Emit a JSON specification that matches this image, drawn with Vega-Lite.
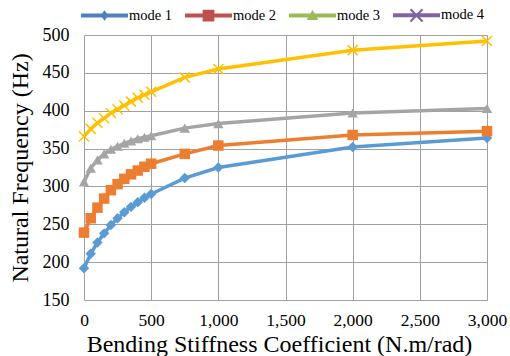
{
  "$schema": "https://vega.github.io/schema/vega-lite/v6.json",
  "width": 403,
  "height": 265,
  "autosize": {"type": "none"},
  "padding": {"left": 84, "top": 35, "right": 23, "bottom": 56},
  "background": "white",
  "config": {
    "view": {"stroke": null},
    "font": "Liberation Serif",
    "style": {"guide-label": {"font": "Liberation Serif"}, "guide-title": {"font": "Liberation Serif"}},
    "axis": {"labelFont": "Liberation Serif", "titleFont": "Liberation Serif"},
    "legend": {"labelFont": "Liberation Serif", "titleFont": "Liberation Serif"}
  },
  "data": {
    "values": [
      {"x": 0, "f": 192, "mode": "mode 1"}, {"x": 50, "f": 211, "mode": "mode 1"}, {"x": 100, "f": 226, "mode": "mode 1"}, {"x": 150, "f": 238, "mode": "mode 1"}, {"x": 200, "f": 249, "mode": "mode 1"}, {"x": 250, "f": 258, "mode": "mode 1"}, {"x": 300, "f": 266, "mode": "mode 1"}, {"x": 350, "f": 273, "mode": "mode 1"}, {"x": 400, "f": 279, "mode": "mode 1"}, {"x": 450, "f": 285, "mode": "mode 1"}, {"x": 500, "f": 290, "mode": "mode 1"}, {"x": 750, "f": 311, "mode": "mode 1"}, {"x": 1000, "f": 325, "mode": "mode 1"}, {"x": 2000, "f": 352, "mode": "mode 1"}, {"x": 3000, "f": 364, "mode": "mode 1"},
      {"x": 0, "f": 239, "mode": "mode 2"}, {"x": 50, "f": 258, "mode": "mode 2"}, {"x": 100, "f": 272, "mode": "mode 2"}, {"x": 150, "f": 284, "mode": "mode 2"}, {"x": 200, "f": 295, "mode": "mode 2"}, {"x": 250, "f": 303, "mode": "mode 2"}, {"x": 300, "f": 310, "mode": "mode 2"}, {"x": 350, "f": 316, "mode": "mode 2"}, {"x": 400, "f": 321, "mode": "mode 2"}, {"x": 450, "f": 326, "mode": "mode 2"}, {"x": 500, "f": 330, "mode": "mode 2"}, {"x": 750, "f": 343, "mode": "mode 2"}, {"x": 1000, "f": 354, "mode": "mode 2"}, {"x": 2000, "f": 368, "mode": "mode 2"}, {"x": 3000, "f": 373, "mode": "mode 2"},
      {"x": 0, "f": 306, "mode": "mode 3"}, {"x": 50, "f": 324, "mode": "mode 3"}, {"x": 100, "f": 335, "mode": "mode 3"}, {"x": 150, "f": 343, "mode": "mode 3"}, {"x": 200, "f": 349, "mode": "mode 3"}, {"x": 250, "f": 353, "mode": "mode 3"}, {"x": 300, "f": 357, "mode": "mode 3"}, {"x": 350, "f": 360, "mode": "mode 3"}, {"x": 400, "f": 363, "mode": "mode 3"}, {"x": 450, "f": 365, "mode": "mode 3"}, {"x": 500, "f": 367, "mode": "mode 3"}, {"x": 750, "f": 377, "mode": "mode 3"}, {"x": 1000, "f": 383, "mode": "mode 3"}, {"x": 2000, "f": 397, "mode": "mode 3"}, {"x": 3000, "f": 403, "mode": "mode 3"},
      {"x": 0, "f": 366, "mode": "mode 4"}, {"x": 50, "f": 376, "mode": "mode 4"}, {"x": 100, "f": 384, "mode": "mode 4"}, {"x": 150, "f": 390, "mode": "mode 4"}, {"x": 200, "f": 397, "mode": "mode 4"}, {"x": 250, "f": 402, "mode": "mode 4"}, {"x": 300, "f": 407, "mode": "mode 4"}, {"x": 350, "f": 412, "mode": "mode 4"}, {"x": 400, "f": 417, "mode": "mode 4"}, {"x": 450, "f": 421, "mode": "mode 4"}, {"x": 500, "f": 425, "mode": "mode 4"}, {"x": 750, "f": 444, "mode": "mode 4"}, {"x": 1000, "f": 455, "mode": "mode 4"}, {"x": 2000, "f": 480, "mode": "mode 4"}, {"x": 3000, "f": 492, "mode": "mode 4"}
    ]
  },
  "encoding": {
    "x": {
      "field": "x", "type": "quantitative",
      "scale": {"domain": [0, 3000], "nice": false, "zero": false},
      "axis": {
        "values": [0, 500, 1000, 1500, 2000, 2500, 3000], "format": ",d",
        "title": "Bending Stiffness Coefficient (N.m/rad)",
        "titleFont": "Liberation Serif", "titleFontSize": 24, "titleFontWeight": "normal", "titleColor": "black", "titlePadding": 4, "titleX": 195,
        "labelFont": "Liberation Serif", "labelFontSize": 17.5, "labelColor": "black", "labelPadding": 11, "labelFlush": false,
        "ticks": false, "domain": false, "gridColor": "#a0a0a0", "gridOpacity": 1, "gridWidth": 1
      }
    },
    "y": {
      "field": "f", "type": "quantitative",
      "scale": {"domain": [150, 500], "nice": false, "zero": false},
      "axis": {
        "values": [150, 200, 250, 300, 350, 400, 450, 500],
        "title": "Natural Frequency (Hz)",
        "titleFont": "Liberation Serif", "titleFontSize": 24, "titleFontWeight": "normal", "titleColor": "black", "titlePadding": 10,
        "labelFont": "Liberation Serif", "labelFontSize": 18, "labelColor": "black", "labelPadding": 15,
        "ticks": false, "domain": false, "gridColor": "#a0a0a0", "gridOpacity": 1, "gridWidth": 1
      }
    }
  },
  "layer": [
    {
      "mark": {"type": "line", "strokeWidth": 3.5},
      "encoding": {
        "color": {
          "field": "mode", "type": "nominal",
          "scale": {"domain": ["mode 1", "mode 2", "mode 3", "mode 4"], "range": ["#5B9BD5", "#ED7D31", "#A5A5A5", "#FFC000"]},
          "legend": null
        }
      }
    },
    {
      "transform": [{"filter": "datum.mode !== 'mode 4'"}],
      "mark": {"type": "point", "filled": true, "opacity": 1, "size": 110},
      "encoding": {
        "color": {
          "field": "mode", "type": "nominal",
          "scale": {"domain": ["mode 1", "mode 2", "mode 3", "mode 4"], "range": ["#5B9BD5", "#ED7D31", "#A5A5A5", "#FFC000"]},
          "legend": null
        },
        "shape": {
          "field": "mode", "type": "nominal",
          "scale": {"domain": ["mode 1", "mode 2", "mode 3"], "range": ["diamond", "square", "triangle-up"]},
          "legend": null
        }
      }
    },
    {
      "transform": [{"filter": "datum.mode === 'mode 4'"}],
      "mark": {"type": "point", "filled": false, "opacity": 1, "size": 100, "strokeWidth": 1.5, "shape": "M-1,-1L1,1M1,-1L-1,1"},
      "encoding": {
        "color": {
          "field": "mode", "type": "nominal",
          "scale": {"domain": ["mode 1", "mode 2", "mode 3", "mode 4"], "range": ["#5B9BD5", "#ED7D31", "#A5A5A5", "#FFC000"]},
          "legend": null
        }
      }
    },
    {
      "transform": [{"filter": "false"}],
      "mark": {"type": "point", "filled": true, "opacity": 1},
      "encoding": {
        "color": {
          "field": "mode", "type": "nominal",
          "scale": {"domain": ["mode 1", "mode 2", "mode 3", "mode 4"], "range": ["#4F81BD", "#C0504D", "#9BBB59", "#8064A2"]},
          "legend": {
            "title": null, "orient": "none", "direction": "horizontal", "columns": 4,
            "legendX": -3, "legendY": -43.5, "padding": 0,
            "symbolSize": 2209, "symbolStrokeWidth": 0, "symbolOpacity": 1,
            "labelFont": "Liberation Serif", "labelFontSize": 14.5, "labelColor": "black", "labelOffset": 1, "columnPadding": 12,
            "encode": {
              "symbols": {
                "update": {
                  "shape": {"signal": "datum.value === 'mode 1' ? 'M-1,-0.085L1,-0.085L1,0.085L-1,0.085Z M0,-0.22L0.165,0L0,0.22L-0.165,0Z' : datum.value === 'mode 2' ? 'M-1,-0.085L1,-0.085L1,0.085L-1,0.085Z M-0.25,-0.25L0.25,-0.25L0.25,0.25L-0.25,0.25Z' : datum.value === 'mode 3' ? 'M-1,-0.085L1,-0.085L1,0.085L-1,0.085Z M0,-0.23L0.25,0.19L-0.25,0.19Z' : 'M-1,-0.085L1,-0.085L1,0.085L-1,0.085Z M-0.225,-0.29L0.29,0.225L0.225,0.29L-0.29,-0.225Z M0.225,-0.29L0.29,-0.225L-0.225,0.29L-0.29,0.225Z'"}
                }
              }
            }
          }
        }
      }
    }
  ],
  "resolve": {"scale": {"color": "independent"}}
}
